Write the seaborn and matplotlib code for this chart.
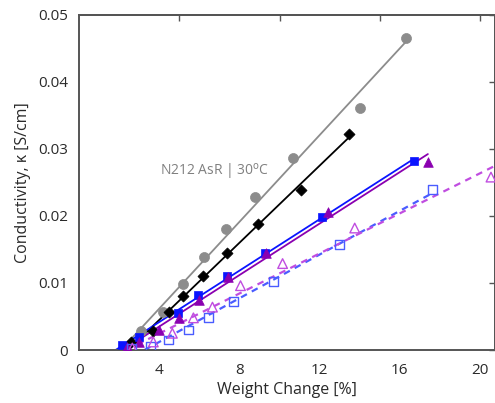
import numpy as np
import pandas as pd
import matplotlib
matplotlib.use("Agg")
import matplotlib.pyplot as plt
import seaborn as sns
from matplotlib.ticker import FuncFormatter

sns.set_theme(style="white")
plt.rcParams['font.family'] = ['Open Sans', 'DejaVu Sans']

# ---- data ----
gray_x = [3.1, 4.2, 5.2, 6.25, 7.35, 8.75, 10.65, 14.0, 16.3]
gray_y = [0.0029, 0.0056, 0.0098, 0.0139, 0.0181, 0.0228, 0.0287, 0.0361, 0.0466]

black_x = [2.6, 3.7, 4.5, 5.2, 6.2, 7.4, 8.9, 11.05, 13.45]
black_y = [0.0012, 0.0028, 0.0057, 0.0081, 0.0110, 0.0145, 0.0188, 0.0239, 0.0322]

blue_x = [2.15, 3.0, 4.95, 5.95, 7.4, 9.25, 12.1, 16.7]
blue_y = [0.0008, 0.0019, 0.0055, 0.0082, 0.0110, 0.0145, 0.0199, 0.0282]

purple_x = [2.4, 3.0, 4.0, 5.0, 6.0, 7.45, 9.3, 12.4, 17.4]
purple_y = [0.0004, 0.0012, 0.0030, 0.0048, 0.0075, 0.0109, 0.0145, 0.0206, 0.0281]

oblue_x = [2.6, 3.55, 4.45, 5.45, 6.45, 7.7, 9.7, 13.0, 17.65]
oblue_y = [0.0002, 0.0005, 0.0015, 0.0030, 0.0049, 0.0072, 0.0102, 0.0158, 0.0239]

opurple_x = [2.65, 3.7, 4.65, 5.7, 6.65, 8.05, 10.15, 13.75, 20.55]
opurple_y = [0.0003, 0.0012, 0.0025, 0.0048, 0.0064, 0.0096, 0.0129, 0.0182, 0.0258]

x_ticks = [0, 4, 8, 12, 16, 20]
y_ticks = [0, 0.01, 0.02, 0.03, 0.04, 0.05]
top_ticks = [5, 10, 15, 20]
annotation = r'N212 AsR | 30$^{\rm o}$C'
xlabel = 'Weight Change [%]'
ylabel = 'Conductivity, κ [S/cm]'

XMAX = 20.75

fig = plt.figure(figsize=(4.95, 4.03), dpi=100)
ax = fig.add_axes([0.16, 0.1315, 0.84, 0.8315])

series = [
    # x, y, color, marker, filled, size, linestyle, extend_to_edge
    (gray_x, gray_y, '#8c8c8c', 'o', True, 52, '-', False),
    (black_x, black_y, '#000000', 'D', True, 32, '-', False),
    (blue_x, blue_y, '#0a14ff', 's', True, 40, '-', False),
    (purple_x, purple_y, '#8a00b0', '^', True, 48, '-', False),
    (oblue_x, oblue_y, '#4a5cff', 's', False, 40, (0, (3, 2.5)), False),
    (opurple_x, opurple_y, '#c04de0', '^', False, 48, (0, (3, 2.5)), True),
]

for x, y, col, mk, filled, s, ls, ext in series:
    x = np.asarray(x)
    y = np.asarray(y)
    m, b = np.polyfit(x, y, 1)
    x0 = -b / m
    x1 = XMAX if ext else x.max()
    xl = np.linspace(x0, x1, 50)
    df_line = pd.DataFrame({'x': xl, 'y': m * xl + b})
    sns.lineplot(data=df_line, x='x', y='y', ax=ax, color=col, lw=1.3,
                 linestyle=ls if isinstance(ls, str) else '-', sort=False)
    if not isinstance(ls, str):
        ax.lines[-1].set_linestyle(ls)
        ax.lines[-1].set_linewidth(1.6)
    df = pd.DataFrame({'x': x, 'y': y})
    if filled:
        sns.scatterplot(data=df, x='x', y='y', ax=ax, color=col, marker=mk,
                        s=s, edgecolor=col, linewidth=0.5, zorder=3)
    else:
        sns.scatterplot(data=df, x='x', y='y', ax=ax, marker=mk, s=s,
                        facecolor='none', edgecolor=col, linewidth=1.0, zorder=3)

ax.set_xlim(0, XMAX)
ax.set_ylim(0, 0.05)
ax.set_xticks(x_ticks)
ax.set_yticks(y_ticks)
ax.yaxis.set_major_formatter(FuncFormatter(lambda v, p: '0' if v == 0 else f'{v:.2f}'))
ax.tick_params(direction='in', length=4, width=1, colors='#555555',
               labelcolor='#2a2a2a', labelsize=11)
ax.tick_params(axis='x', pad=9)
ax.tick_params(axis='y', pad=8)

secx = ax.secondary_xaxis('top')
secx.set_xticks(top_ticks)
secx.tick_params(direction='in', length=4, width=1, colors='#555555', labeltop=False)
secy = ax.secondary_yaxis('right')
secy.set_yticks(y_ticks)
secy.tick_params(direction='in', length=4, width=1, colors='#555555', labelright=False)
for sp in list(ax.spines.values()) + [secx.spines['top'], secy.spines['right']]:
    sp.set_color('#555555')
    sp.set_linewidth(1.4)

ax.set_xlabel(xlabel, fontsize=11.5, color='#2a2a2a', labelpad=3)
ax.set_ylabel(ylabel, fontsize=11.5, color='#2a2a2a', labelpad=5)

ax.text(4.05, 0.0266, annotation, fontsize=10, color='#808080', va='center', ha='left')

fig.savefig('out.png', dpi=100)
